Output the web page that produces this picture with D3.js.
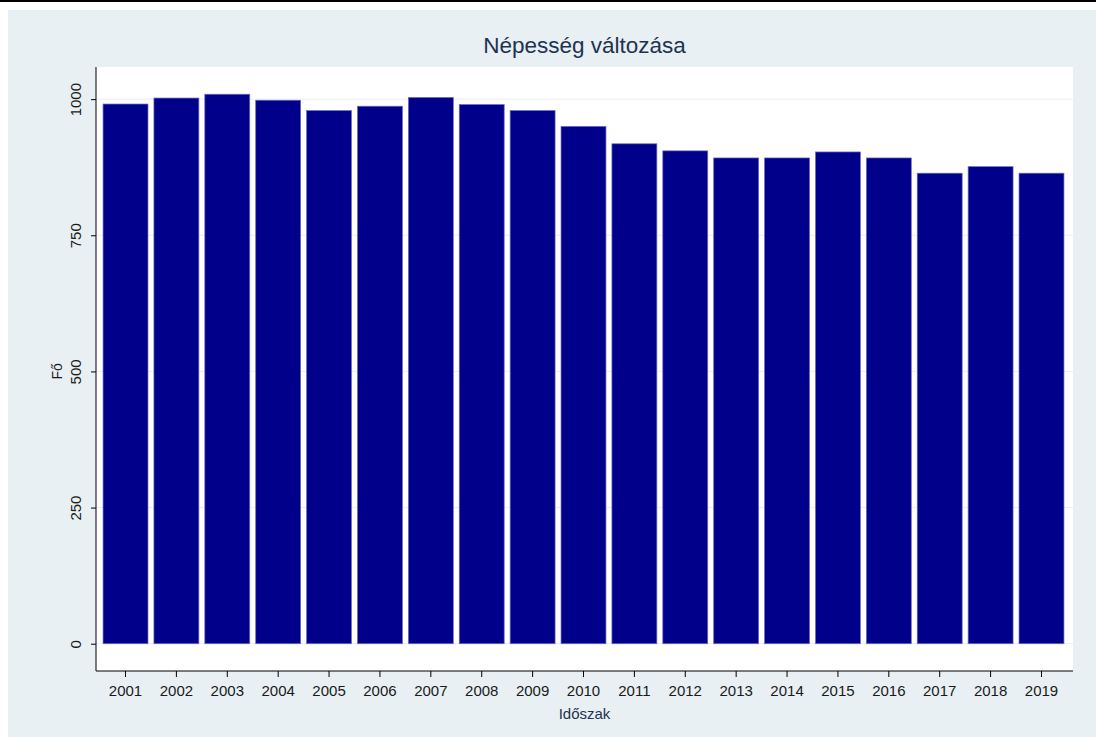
<!DOCTYPE html>
<html>
<head>
<meta charset="utf-8">
<script src="https://cdn.jsdelivr.net/npm/d3@7"></script>
<style>
  body { margin: 0; background: #fff; }
  text { font-family: "Liberation Sans", Arial, sans-serif; }
</style>
</head>
<body>
<div id="main"></div>
<script>
var years = ["2001", "2002", "2003", "2004", "2005", "2006", "2007", "2008", "2009", "2010",
    "2011", "2012", "2013", "2014", "2015", "2016", "2017", "2018", "2019"];
var people = [991, 1002, 1009, 998, 979, 987, 1003, 990, 979, 950,
    918, 905, 892, 892, 903, 892, 864, 876, 864];
var yTicks = [0, 250, 500, 750, 1000];

var cfg = {
    width: 1096,
    height: 737,
    left: 96,
    right: 1073,
    top: 67,
    bottom: 671
};

var svg = d3.select("#main").append("svg")
    .attr("width", cfg.width)
    .attr("height", cfg.height);

// top rule + outer grey panel
svg.append("rect").attr("x", 0).attr("y", 0).attr("width", cfg.width).attr("height", 2).attr("fill", "#000");
svg.append("rect").attr("x", 8).attr("y", 10).attr("width", cfg.width - 8).attr("height", cfg.height - 10)
    .attr("fill", "#e8f0f3");

// plot region
svg.append("rect")
    .attr("x", cfg.left).attr("y", cfg.top)
    .attr("width", cfg.right - cfg.left).attr("height", cfg.bottom - cfg.top)
    .attr("fill", "#fff");

var x = d3.scaleBand()
    .domain(years)
    .range([100.5, 1066.5])
    .paddingInner(0.117)
    .paddingOuter(0.05);

var y = d3.scaleLinear()
    .domain([-50.1, 1059])
    .range([cfg.bottom, cfg.top]);

// grid
svg.selectAll(".grid")
    .data(yTicks)
    .enter()
    .append("line")
    .attr("class", "grid")
    .attr("x1", cfg.left).attr("x2", cfg.right)
    .attr("y1", function (d) { return y(d); })
    .attr("y2", function (d) { return y(d); })
    .attr("stroke", "#eaeff2")
    .attr("stroke-width", 1);

// bars
svg.selectAll(".bar")
    .data(people)
    .enter()
    .append("rect")
    .attr("class", "bar")
    .attr("x", function (d, i) { return x(years[i]); })
    .attr("width", x.bandwidth())
    .attr("y", function (d) { return y(d); })
    .attr("height", function (d) { return y(0) - y(d); })
    .attr("fill", "#00008b")
    .attr("stroke", "#6b6bc4")
    .attr("stroke-width", 0.7);

// y axis
var yAxis = svg.append("g")
    .attr("transform", "translate(" + cfg.left + ",0)")
    .call(d3.axisLeft(y).tickValues(yTicks).tickFormat(d3.format("d")).tickSize(5).tickSizeOuter(0));
yAxis.select(".domain").attr("d", "M0," + cfg.top + "V" + cfg.bottom).attr("stroke", "#000");
yAxis.selectAll(".tick line").attr("stroke", "#000");
yAxis.selectAll(".tick text")
    .attr("transform", "rotate(-90)")
    .attr("x", 0)
    .attr("y", -20)
    .attr("dy", "0.35em")
    .style("text-anchor", "middle")
    .style("font-size", "15px")
    .attr("fill", "#1a1a1a");

// x axis
var xAxis = svg.append("g")
    .attr("transform", "translate(0," + cfg.bottom + ")")
    .call(d3.axisBottom(x).tickSize(6).tickPadding(8).tickSizeOuter(0));
xAxis.select(".domain").attr("d", "M" + cfg.left + ",0H" + cfg.right).attr("stroke", "#000");
xAxis.selectAll(".tick line").attr("stroke", "#000");
xAxis.selectAll(".tick text")
    .style("font-size", "15px")
    .attr("fill", "#1a1a1a");

// titles
svg.append("text")
    .attr("x", (cfg.left + cfg.right) / 2)
    .attr("y", 53)
    .attr("text-anchor", "middle")
    .attr("font-size", 22.5)
    .attr("fill", "#1e3350")
    .text("Népesség változása");

svg.append("text")
    .attr("x", (cfg.left + cfg.right) / 2)
    .attr("y", 719)
    .attr("text-anchor", "middle")
    .attr("font-size", 15)
    .attr("fill", "#1e3350")
    .text("Időszak");

svg.append("text")
    .attr("transform", "translate(62," + y(500) + ") rotate(-90)")
    .attr("text-anchor", "middle")
    .attr("font-size", 14)
    .attr("fill", "#1a1a1a")
    .text("Fő");
</script>
</body>
</html>
